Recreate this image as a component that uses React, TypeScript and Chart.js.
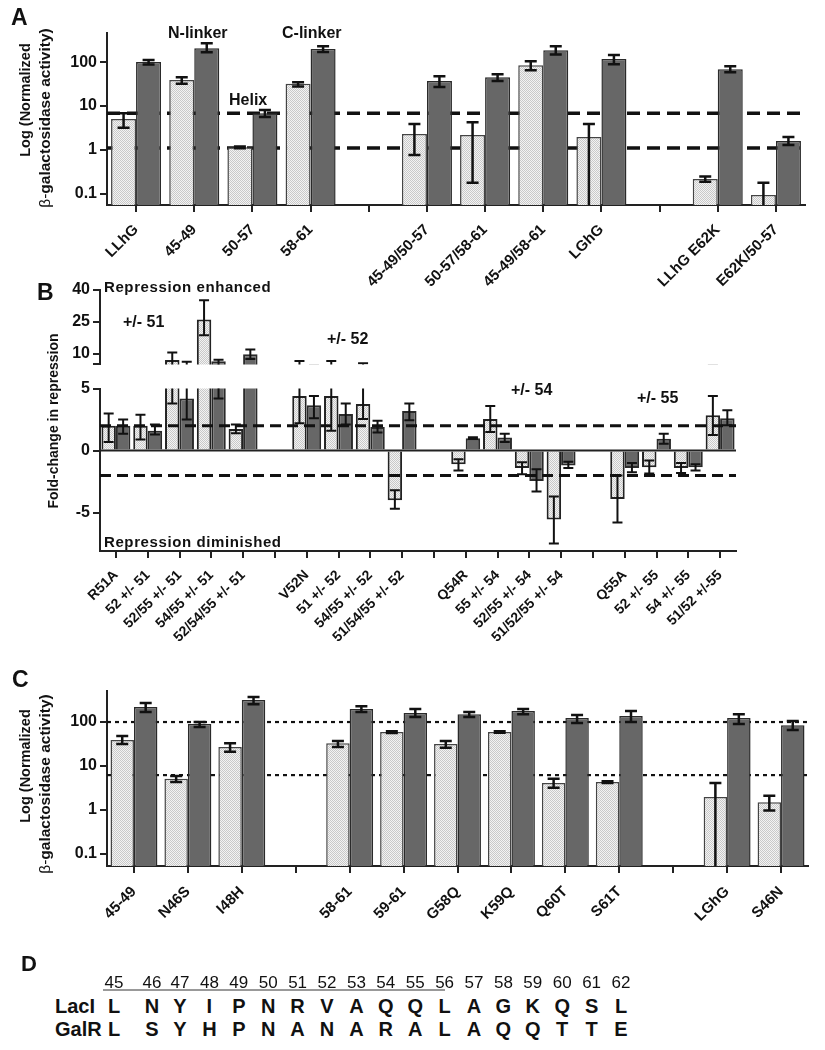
import React, { useEffect, useRef } from 'react';
import { Chart, registerables } from 'chart.js';

Chart.register(...registerables);

const FONT = '"Liberation Sans", Arial, Helvetica, sans-serif';
Chart.defaults.font.family = FONT;

// ---------------- Panel A ----------------
const catsA = ['LLhG', '45-49', '50-57', '58-61', '', '45-49/50-57', '50-57/58-61', '45-49/58-61', 'LGhG', '', 'LLhG E62K', 'E62K/50-57'];
const lightA = [5.1, 39, 1.15, 32, null, 2.3, 2.2, 85, 1.97, null, 0.22, 0.095];
const lightALo = [3.2, 32, 1.1, 28, null, 0.77, 0.18, 65, 0.03, null, 0.19, 0.03];
const lightAHi = [6.9, 45, 1.2, 35, null, 3.9, 4.3, 105, 3.9, null, 0.25, 0.18];
const darkA = [100, 208, 6.9, 200, null, 37, 45, 187, 117, null, 69, 1.6];
const darkALo = [88, 168, 5.6, 170, null, 27, 37, 150, 90, null, 59, 1.3];
const darkAHi = [112, 270, 8.1, 230, null, 48, 53, 230, 145, null, 81, 1.97];
const refA = [6.9, 1.11];
const ticksA = [0.1, 1, 10, 100];

// ---------------- Panel B ----------------
const catsB = ['R51A', '52 +/- 51', '52/55 +/- 51', '54/55 +/- 51', '52/54/55 +/- 51', '', 'V52N', '51 +/- 52', '54/55 +/- 52', '51/54/55 +/- 52', '', 'Q54R', '55 +/- 54', '52/55 +/- 54', '51/52/55 +/- 54', '', 'Q55A', '52 +/- 55', '54 +/- 55', '51/52 +/-55'];
const lightB = [2.0, 2.0, 7.1, 26, 1.75, null, 4.4, 4.4, 3.75, -4.0, null, -1.1, 2.55, -1.4, -5.55, null, -3.9, -1.35, -1.4, 2.85];
const lightBLo = [0.7, 0.9, 3.8, 18.6, 1.4, null, 2.2, 1.6, 2.55, -4.7, null, -1.6, 1.5, -1.9, -7.5, null, -5.8, -1.85, -1.8, 1.25];
const lightBHi = [3.0, 2.9, 10.6, 35, 2.1, null, 6.6, 6.6, 5.5, -3.2, null, -0.7, 3.6, -0.95, -3.7, null, -2.0, -0.8, -1.0, 4.4];
const darkB = [2.0, 1.6, 4.2, 6.5, 9.8, null, 3.65, 2.95, 1.9, 3.2, null, 1.0, 1.05, -2.45, -1.2, null, -1.4, 0.95, -1.35, 2.6];
const darkBLo = [1.35, 1.3, 2.5, 4.2, 7.5, null, 2.6, 2.1, 1.45, 2.45, null, 0.92, 0.7, -3.3, -1.4, null, -1.75, 0.55, -1.6, 2.05];
const darkBHi = [2.5, 2.1, 6.2, 7.2, 12, null, 4.4, 3.8, 2.4, 3.8, null, 1.08, 1.35, -1.5, -0.9, null, -1.0, 1.35, -1.1, 3.25];
const refB = [2, -2];
const ticksBTop = [5, 10, 25, 40];
const ticksBBottom = [-5, 0, 5];

// ---------------- Panel C ----------------
const catsC = ['45-49', 'N46S', 'I48H', '', '58-61', '59-61', 'G58Q', 'K59Q', 'Q60T', 'S61T', '', 'LGhG', 'S46N'];
const lightC = [39, 5.1, 27, null, 33, 59, 31.6, 59, 4.1, 4.3, null, 1.97, 1.5];
const lightCLo = [31.6, 4.3, 21, null, 27, 56, 26, 57, 3.2, 4.1, null, 0.03, 0.97];
const lightCHi = [48, 5.9, 33, null, 37, 62, 37, 62, 5.1, 4.5, null, 4.1, 2.1];
const darkC = [219, 90, 316, null, 197, 160, 151, 178, 123, 137, null, 123, 85];
const darkCLo = [168, 77, 255, null, 168, 130, 130, 151, 95, 100, null, 90, 66];
const darkCHi = [270, 100, 370, null, 230, 197, 168, 197, 145, 178, null, 151, 105];
const refC = [100, 6.2];
const ticksC = [0.1, 1, 10, 100];

// ---------------- Panel D ----------------
const residues = ['45', '46', '47', '48', '49', '50', '51', '52', '53', '54', '55', '56', '57', '58', '59', '60', '61', '62'];
const lacI = ['L', 'N', 'Y', 'I', 'P', 'N', 'R', 'V', 'A', 'Q', 'Q', 'L', 'A', 'G', 'K', 'Q', 'S', 'L'];
const galR = ['L', 'S', 'Y', 'H', 'P', 'N', 'A', 'N', 'A', 'R', 'A', 'L', 'A', 'Q', 'Q', 'T', 'T', 'E'];

// ---------------- plugins ----------------
const errorBarPlugin = {
  id: 'errorBars',
  afterDatasetsDraw(chart: any, _args: any, opts: any) {
    const { ctx, chartArea } = chart;
    const yScale = chart.scales.y;
    ctx.save();
    ctx.beginPath();
    ctx.rect(chartArea.left, chartArea.top, chartArea.right - chartArea.left, chartArea.bottom - chartArea.top);
    ctx.clip();
    ctx.strokeStyle = opts.color || '#111';
    ctx.lineWidth = opts.width || 2;
    const cap = opts.cap || 5;
    chart.data.datasets.forEach((ds: any, di: number) => {
      const meta = chart.getDatasetMeta(di);
      const lo = ds.errLo;
      const hi = ds.errHi;
      if (!lo || !hi) return;
      meta.data.forEach((el: any, i: number) => {
        if (lo[i] == null || hi[i] == null) return;
        const x = el.x;
        const y1 = yScale.getPixelForValue(lo[i]);
        const y2 = yScale.getPixelForValue(hi[i]);
        ctx.beginPath();
        ctx.moveTo(x, y1);
        ctx.lineTo(x, y2);
        ctx.moveTo(x - cap, y1);
        ctx.lineTo(x + cap, y1);
        ctx.moveTo(x - cap, y2);
        ctx.lineTo(x + cap, y2);
        ctx.stroke();
      });
    });
    ctx.restore();
  },
};

function drawRefLines(chart: any, opts: any) {
  const lines = opts.lines || [];
  if (!lines.length) return;
  const { ctx, chartArea } = chart;
  const yScale = chart.scales.y;
  ctx.save();
  for (let i = 0; i < lines.length; i++) {
    const l = lines[i];
    const y = yScale.getPixelForValue(l.value);
    ctx.beginPath();
    ctx.setLineDash(l.dash || []);
    ctx.lineWidth = l.width || 2;
    ctx.strokeStyle = l.color || '#111';
    ctx.moveTo(chartArea.left, y);
    ctx.lineTo(chartArea.right + (l.extend || 0), y);
    ctx.stroke();
  }
  ctx.restore();
}

const refLinePlugin = {
  id: 'refLines',
  beforeDatasetsDraw(chart: any, _a: any, opts: any) {
    if (!opts.front) drawRefLines(chart, opts);
  },
  afterDatasetsDraw(chart: any, _a: any, opts: any) {
    if (opts.front) drawRefLines(chart, opts);
  },
};

function makePattern(): any {
  const c = document.createElement('canvas');
  c.width = 2;
  c.height = 2;
  const g = c.getContext('2d')!;
  g.fillStyle = '#f3f3f3';
  g.fillRect(0, 0, 2, 2);
  g.fillStyle = '#c9c9c9';
  g.fillRect(0, 0, 1, 1);
  g.fillRect(1, 1, 1, 1);
  return g.createPattern(c, 'repeat');
}

const tickFont = { family: FONT, size: 16, weight: 'bold' as const };

function yAxis(extra: any, width: number, ticks: number[], labelFn: (v: number) => string) {
  return {
    ...extra,
    grid: { display: true, drawOnChartArea: false, drawTicks: true, tickLength: 7, color: '#222', lineWidth: 2 },
    border: { display: true, width: 2, color: '#222' },
    ticks: { font: tickFont, color: '#111', padding: 3, callback: (v: any) => labelFn(Number(v)) },
    afterBuildTicks: (s: any) => {
      s.ticks = ticks.map((value) => ({ value }));
    },
    afterFit: (s: any) => {
      s.width = width;
    },
  };
}

function xAxis(height: number, fontSize: number, display = true, pad = 10) {
  if (!display) return { display: false };
  return {
    grid: { display: true, drawOnChartArea: false, drawTicks: true, tickLength: 7, color: '#222', tickColor: '#222', tickWidth: 2, lineWidth: 2, offset: false },
    border: { display: true, width: 2, color: '#222' },
    ticks: { font: { family: FONT, size: fontSize, weight: 'bold' as const }, color: '#111', maxRotation: 45, minRotation: 45, autoSkip: false, padding: pad },
    afterFit: (s: any) => {
      s.height = height;
    },
  };
}

function barSets(pattern: any, light: any[], lo: any[], hi: any[], dark: any[], dlo: any[], dhi: any[], catPct: number, bw: number, lightBorder: string) {
  return [
    { data: light, backgroundColor: pattern, borderColor: lightBorder, borderWidth: bw, errLo: lo, errHi: hi, categoryPercentage: catPct, barPercentage: 1 },
    { data: dark, backgroundColor: '#676767', borderColor: '#2a2a2a', borderWidth: bw, errLo: dlo, errHi: dhi, categoryPercentage: catPct, barPercentage: 1 },
  ];
}

function fmtLog(v: number) {
  return String(v);
}

function ChartCanvas({ top, height, build }: { top: number; height: number; build: (p: any) => any }) {
  const ref = useRef<HTMLCanvasElement | null>(null);
  useEffect(() => {
    if (!ref.current) return;
    const pattern = makePattern();
    const chart = new Chart(ref.current, build(pattern));
    return () => chart.destroy();
  }, []);
  return <canvas ref={ref} width={825} height={height} style={{ position: 'absolute', left: 0, top, width: 825, height }} />;
}

const baseOpts = (padding: any, plugins: any) => ({
  animation: false as const,
  responsive: false,
  events: [],
  layout: { padding },
  plugins: { legend: { display: false }, tooltip: { enabled: false }, ...plugins },
});

const buildA = (pattern: any) => ({
  type: 'bar',
  data: { labels: catsA, datasets: barSets(pattern, lightA, lightALo, lightAHi, darkA, darkALo, darkAHi, 0.86, 1.5, '#444') },
  options: {
    ...baseOpts({ top: 33, right: 20, left: 0, bottom: 0 }, {
      refLines: { front: false, lines: refA.map((value) => ({ value, dash: [13, 7], width: 3.5, color: '#111' })) },
      errorBars: { cap: 6, width: 2.5, color: '#111' },
    }),
    scales: {
      x: xAxis(95, 15, true, 9),
      y: yAxis({ type: 'logarithmic', min: 0.056, max: 460 }, 107, ticksA, fmtLog),
    },
  },
  plugins: [refLinePlugin, errorBarPlugin],
});

const buildBTop = (pattern: any) => ({
  type: 'bar',
  data: { labels: catsB, datasets: barSets(pattern, lightB, lightBLo, lightBHi, darkB, darkBLo, darkBHi, 0.91, 2, '#222') },
  options: {
    ...baseOpts({ top: 10, right: 89, left: 0, bottom: 5 }, {
      errorBars: { cap: 5, width: 2, color: '#111' },
    }),
    scales: {
      x: xAxis(0, 14, false),
      y: yAxis({ type: 'linear', min: 5, max: 40 }, 100, ticksBTop, (v) => (v === 5 ? '' : String(v))),
    },
  },
  plugins: [errorBarPlugin],
});

const buildBBottom = (pattern: any) => ({
  type: 'bar',
  data: { labels: catsB, datasets: barSets(pattern, lightB, lightBLo, lightBHi, darkB, darkBLo, darkBHi, 0.91, 2, '#222') },
  options: {
    ...baseOpts({ top: 10, right: 89, left: 0, bottom: 0 }, {
      refLines: {
        front: true,
        lines: [
          { value: 0, dash: [], width: 2, color: '#222' },
          ...refB.map((value) => ({ value, dash: [11, 6], width: 3, color: '#111' })),
        ],
      },
      errorBars: { cap: 5, width: 2, color: '#111' },
    }),
    scales: {
      x: xAxis(125, 14, true, 9),
      y: yAxis({ type: 'linear', min: -8.1, max: 5 }, 100, ticksBBottom, (v) => String(v)),
    },
  },
  plugins: [refLinePlugin, errorBarPlugin],
});

const buildC = (pattern: any) => ({
  type: 'bar',
  data: { labels: catsC, datasets: barSets(pattern, lightC, lightCLo, lightCHi, darkC, darkCLo, darkCHi, 0.87, 1.5, '#444') },
  options: {
    ...baseOpts({ top: 31, right: 17, left: 0, bottom: 0 }, {
      refLines: { front: false, lines: refC.map((value) => ({ value, dash: [4, 4], width: 2.2, color: '#111' })) },
      errorBars: { cap: 6, width: 2.5, color: '#111' },
    }),
    scales: {
      x: xAxis(114, 15, true, 10),
      y: yAxis({ type: 'logarithmic', min: 0.053, max: 508 }, 107, ticksC, fmtLog),
    },
  },
  plugins: [refLinePlugin, errorBarPlugin],
});

function Txt({ x, y, size = 16, bold = true, children, style }: any) {
  return (
    <div style={{ position: 'absolute', left: x, top: y, fontSize: size, fontWeight: bold ? 'bold' : 'normal', fontFamily: FONT, lineHeight: 1, whiteSpace: 'nowrap', color: '#111', ...style }}>
      {children}
    </div>
  );
}

function VText({ cx, cy, size = 14, children }: any) {
  return (
    <div style={{ position: 'absolute', left: cx, top: cy, transform: 'translate(-50%, -50%) rotate(-90deg)', fontFamily: FONT, fontSize: size, fontWeight: 'bold', lineHeight: 1, whiteSpace: 'nowrap', color: '#111' }}>
      {children}
    </div>
  );
}

const betaLine = (
  <span>
    <span style={{ fontWeight: 'normal' }}>β-</span>galactosidase activity)
  </span>
);

function colX(i: number) {
  if (i === 0) return 114;
  if (i === 1) return 152;
  return 180 + (i - 2) * 29.4;
}

export default function App() {
  return (
    <div style={{ position: 'absolute', left: 0, top: 0, width: 825, height: 1050, background: '#fff', overflow: 'hidden' }}>
      <ChartCanvas top={0} height={300} build={buildA} />
      <ChartCanvas top={277} height={100} build={buildBTop} />
      <ChartCanvas top={376} height={300} build={buildBBottom} />
      <ChartCanvas top={660} height={320} build={buildC} />

      {/* Panel A texts */}
      <Txt x={11} y={6} size={23}>A</Txt>
      <VText cx={25} cy={100} size={14.5}>Log (Normalized</VText>
      <VText cx={45} cy={118} size={15.5}>{betaLine}</VText>
      <Txt x={168} y={25}>N-linker</Txt>
      <Txt x={282} y={25}>C-linker</Txt>
      <Txt x={229} y={92}>Helix</Txt>

      {/* Panel B texts */}
      <Txt x={37} y={281} size={23}>B</Txt>
      <VText cx={53} cy={421} size={14}>Fold-change in repression</VText>
      <Txt x={104} y={279} size={15} style={{ letterSpacing: 0.6 }}>Repression enhanced</Txt>
      <Txt x={104} y={534} size={15} style={{ letterSpacing: 0.6 }}>Repression diminished</Txt>
      <Txt x={123} y={314}>+/- 51</Txt>
      <Txt x={327} y={331}>+/- 52</Txt>
      <Txt x={511} y={382}>+/- 54</Txt>
      <Txt x={637} y={390}>+/- 55</Txt>

      {/* Panel C texts */}
      <Txt x={12} y={668} size={23}>C</Txt>
      <VText cx={25} cy={766} size={14.5}>Log (Normalized</VText>
      <VText cx={45} cy={784} size={15.5}>{betaLine}</VText>

      {/* Panel D */}
      <Txt x={21} y={953} size={22}>D</Txt>
      {residues.map((r, i) => (
        <Txt key={'n' + i} x={colX(i)} y={974} size={17} bold={false} style={{ transform: 'translateX(-50%)' }}>
          {r}
        </Txt>
      ))}
      <div style={{ position: 'absolute', left: 103, top: 989, width: 342, height: 1.5, background: '#999' }} />
      <Txt x={55} y={996} size={20}>LacI</Txt>
      <Txt x={55} y={1019} size={20}>GalR</Txt>
      {lacI.map((a, i) => (
        <Txt key={'l' + i} x={colX(i)} y={996} size={20} style={{ transform: 'translateX(-50%)' }}>
          {a}
        </Txt>
      ))}
      {galR.map((a, i) => (
        <Txt key={'g' + i} x={colX(i)} y={1019} size={20} style={{ transform: 'translateX(-50%)' }}>
          {a}
        </Txt>
      ))}
    </div>
  );
}
